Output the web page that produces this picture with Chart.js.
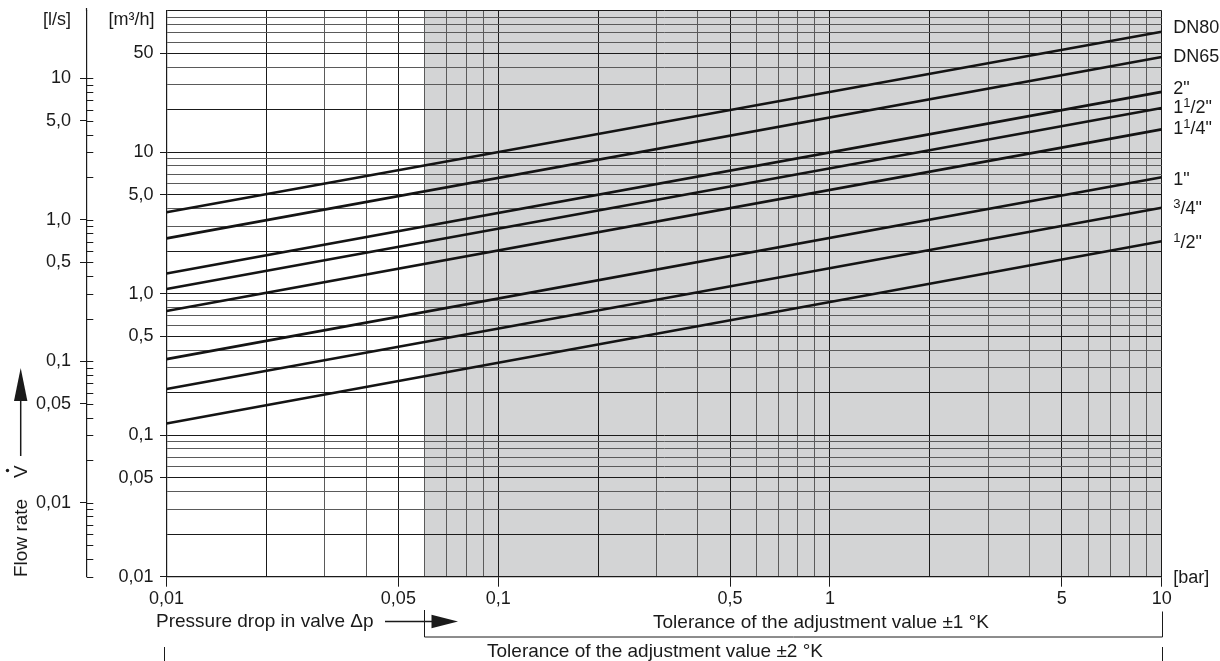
<!DOCTYPE html>
<html>
<head>
<meta charset="utf-8">
<title>Flow rate vs pressure drop in valve</title>
<script src="https://cdn.jsdelivr.net/npm/chart.js@4"></script>
<style>
  html, body { margin: 0; padding: 0; background: #fff; }
</style>
</head>
<body>
<canvas id="chart" width="1220" height="661"></canvas>
<script>
// pressure drop in valve [bar], each line is read at both ends of the axis
const pressureDrop = [0.01, 10];

// valve sizes, '^' marks a superscript character
const valveSizes = ['DN80', 'DN65', '2"', '1^1/2"', '1^1/4"', '1"', '^3/4"', '^1/2"'];

// flow rate [m3/h] at 0.01 bar and at 10 bar
const flowDN80 = [3.76, 71.1];
const flowDN65 = [2.46, 47.1];
const flow2 = [1.39, 26.7];
const flow112 = [1.08, 20.5];
const flow114 = [0.755, 14.5];
const flow1 = [0.345, 6.65];
const flow34 = [0.212, 4.05];
const flow12 = [0.121, 2.35];
const flowSeries = [flowDN80, flowDN65, flow2, flow112, flow114, flow1, flow34, flow12];

// labelled ticks
const xTickValues = [0.01, 0.05, 0.1, 0.5, 1, 5, 10];
const xTickLabels = ['0,01', '0,05', '0,1', '0,5', '1', '5', '10'];
const yTickValues = [0.01, 0.05, 0.1, 0.5, 1, 5, 10, 50];
const yTickLabels = ['0,01', '0,05', '0,1', '0,5', '1,0', '5,0', '10', '50'];
const lsTickValues = [0.01, 0.05, 0.1, 0.5, 1, 5, 10];
const lsTickLabels = ['0,01', '0,05', '0,1', '0,5', '1,0', '5,0', '10'];

// pressure drop where the shaded tolerance band starts
const shadeFrom = 0.06;

// small vertical nudges for the size labels on the right
const labelNudge = [-5, -1, -4, -1, -2, 1, 0, 0];

const ink = '#1a1a1a';
const family = "'Liberation Sans', Arial, sans-serif";

// 1..9 steps of every decade between lo and hi
function logSteps(lo, hi) {
  const out = [];
  for (let e = Math.floor(Math.log10(lo)); e <= Math.ceil(Math.log10(hi)); e++) {
    for (let m = 1; m <= 9; m++) {
      const v = +(m * Math.pow(10, e)).toPrecision(6);
      if (v >= lo * 0.9999 && v <= hi * 1.0001) out.push(v);
    }
  }
  return out;
}

function labelFor(values, labels, v) {
  const i = values.findIndex(t => Math.abs(t - v) / t < 1e-6);
  return i < 0 ? '' : labels[i];
}

function gridColor(v) {
  const m = Math.round(v / Math.pow(10, Math.floor(Math.log10(v) + 1e-9)));
  return (m === 1 || m === 2 || m === 5) ? '#1a1a1a' : '#5a5a5a';
}

// draws a label with '^' superscripts, vertically centred on y
function drawSizeLabel(ctx, text, x, y) {
  const base = y + 6.4;
  let cx = x;
  for (let i = 0; i < text.length; i++) {
    let ch = text[i];
    if (ch === '^') {
      ch = text[++i];
      ctx.font = '13px ' + family;
      ctx.fillText(ch, cx, base - 6);
    } else {
      ctx.font = '18px ' + family;
      ctx.fillText(ch, cx, base);
    }
    cx += ctx.measureText(ch).width;
  }
}

// keep the vertical axes from pushing the plot area down
function fixVertical(width) {
  return s => {
    s.width = width;
    s.paddingTop = 0;
    s.paddingBottom = 0;
  };
}

const annotations = {
  id: 'annotations',
  beforeDraw(chart) {
    const { ctx, chartArea, scales: { x } } = chart;
    ctx.save();
    ctx.fillStyle = '#d3d4d5';
    const x0 = x.getPixelForValue(shadeFrom);
    ctx.fillRect(x0, chartArea.top, chartArea.right - x0, chartArea.bottom - chartArea.top);
    ctx.restore();
  },
  afterDraw(chart) {
    const { ctx, chartArea, scales: { x, y, ls } } = chart;
    ctx.save();
    ctx.fillStyle = ink;
    ctx.strokeStyle = ink;

    // short stubs on the inner side of the l/s axis
    ctx.lineWidth = 1;
    ls.ticks.forEach(t => {
      const py = Math.round(ls.getPixelForValue(t.value)) + 0.5;
      ctx.beginPath();
      ctx.moveTo(ls.right, py);
      ctx.lineTo(ls.right + 6.6, py);
      ctx.stroke();
    });

    // units
    ctx.font = '18px ' + family;
    ctx.textBaseline = 'middle';
    ctx.textAlign = 'right';
    ctx.fillText('[l/s]', 71, 20);
    ctx.fillText('[m³/h]', 154.5, 20);
    ctx.textAlign = 'left';
    ctx.fillText('[bar]', chartArea.right + 11.5, 578);

    // size labels at the line ends
    ctx.textBaseline = 'alphabetic';
    valveSizes.forEach((name, i) => {
      const s = flowSeries[i];
      drawSizeLabel(ctx, name, chartArea.right + 11.5, y.getPixelForValue(s[s.length - 1]) + labelNudge[i]);
    });

    // axis titles
    ctx.font = '19px ' + family;
    ctx.fillText('Pressure drop in valve \u0394p', 156, 627);
    ctx.lineWidth = 1.5;
    ctx.beginPath();
    ctx.moveTo(385, 621.5);
    ctx.lineTo(433, 621.5);
    ctx.stroke();
    ctx.beginPath();
    ctx.moveTo(458, 621.5);
    ctx.lineTo(431.5, 614.8);
    ctx.lineTo(431.5, 628.2);
    ctx.closePath();
    ctx.fill();

    ctx.save();
    ctx.translate(27, 577);
    ctx.rotate(-Math.PI / 2);
    ctx.textAlign = 'left';
    ctx.fillText('Flow rate', 0, 0);
    ctx.fillText('V', 99, 0);
    ctx.beginPath();
    ctx.arc(106.5, -19.5, 1.7, 0, Math.PI * 2);
    ctx.fill();
    ctx.restore();

    ctx.beginPath();
    ctx.moveTo(20.7, 456);
    ctx.lineTo(20.7, 398);
    ctx.stroke();
    ctx.beginPath();
    ctx.moveTo(20.7, 368);
    ctx.lineTo(14, 401);
    ctx.lineTo(27.4, 401);
    ctx.closePath();
    ctx.fill();

    // l/s axis runs a little above the plot frame
    ctx.lineWidth = 1.2;
    ctx.beginPath();
    ctx.moveTo(Math.round(ls.right) - 0.5, 8);
    ctx.lineTo(Math.round(ls.right) - 0.5, chartArea.top);
    ctx.stroke();

    // tolerance brackets
    const xs = Math.round(x.getPixelForValue(shadeFrom)) - 0.5;
    const xe = Math.round(x.getPixelForValue(10)) + 0.5;
    const xl = Math.round(x.getPixelForValue(0.01)) - 2.5;
    ctx.lineWidth = 1;
    ctx.beginPath();
    ctx.moveTo(xs, 610);
    ctx.lineTo(xs, 637);
    ctx.lineTo(xe, 637);
    ctx.lineTo(xe, 611.5);
    ctx.moveTo(xl, 647);
    ctx.lineTo(xl, 661);
    ctx.moveTo(xe, 647);
    ctx.lineTo(xe, 661);
    ctx.stroke();

    ctx.textAlign = 'center';
    ctx.fillText('Tolerance of the adjustment value \u00b11 \u00b0K', 821, 628);
    ctx.fillText('Tolerance of the adjustment value \u00b12 \u00b0K', 655, 656.5);
    ctx.restore();
  }
};

const datasets = flowSeries.map((s, i) => ({
  label: valveSizes[i],
  data: pressureDrop.map((p, j) => ({ x: p, y: s[j] })),
  borderColor: '#141414',
  borderWidth: 2.6,
  pointRadius: 0,
  tension: 0,
  fill: false
}));

const tickFont = { family: family, size: 18 };

new Chart(document.getElementById('chart'), {
  type: 'line',
  data: { datasets },
  options: {
    responsive: false,
    animation: false,
    layout: { padding: { top: 10.7, right: 58.3, bottom: 0, left: 0 } },
    plugins: { legend: { display: false }, tooltip: { enabled: false } },
    scales: {
      x: {
        type: 'logarithmic',
        position: 'bottom',
        min: 0.01,
        max: 10,
        afterBuildTicks: s => { s.ticks = logSteps(0.01, 10).map(v => ({ value: v })); },
        afterFit: s => { s.height = 84.3; },
        ticks: {
          autoSkip: false, maxRotation: 0, padding: 2, color: ink, font: tickFont,
          callback: v => labelFor(xTickValues, xTickLabels, v)
        },
        grid: {
          color: c => gridColor(c.tick.value), lineWidth: 1, tickLength: 10,
          tickColor: c => labelFor(xTickValues, xTickLabels, c.tick.value) ? ink : 'transparent'
        },
        border: { color: ink, width: 1.2 }
      },
      y: {
        type: 'logarithmic',
        position: 'left',
        weight: 0,
        min: 0.01,
        max: 100,
        afterBuildTicks: s => { s.ticks = logSteps(0.01, 100).map(v => ({ value: v })); },
        afterFit: fixVertical(79.8),
        ticks: {
          autoSkip: false, padding: 6.5, color: ink, font: tickFont,
          callback: v => labelFor(yTickValues, yTickLabels, v)
        },
        grid: {
          color: c => gridColor(c.tick.value), lineWidth: 1, tickLength: 6.5,
          tickColor: c => labelFor(yTickValues, yTickLabels, c.tick.value) ? ink : 'transparent'
        },
        border: { color: ink, width: 1.2 }
      },
      ls: {
        type: 'logarithmic',
        position: 'left',
        weight: 1,
        min: 0.003,
        max: 30,
        afterBuildTicks: s => { s.ticks = logSteps(0.003, 10).map(v => ({ value: v })); },
        afterFit: fixVertical(86.7),
        ticks: {
          autoSkip: false, padding: 9, color: ink, font: tickFont,
          callback: v => labelFor(lsTickValues, lsTickLabels, v)
        },
        grid: {
          drawOnChartArea: false, tickLength: 6.7, lineWidth: 1,
          tickColor: c => labelFor(lsTickValues, lsTickLabels, c.tick.value) ? ink : 'transparent'
        },
        border: { color: ink, width: 1.2 }
      }
    }
  },
  plugins: [annotations]
});
</script>
</body>
</html>
